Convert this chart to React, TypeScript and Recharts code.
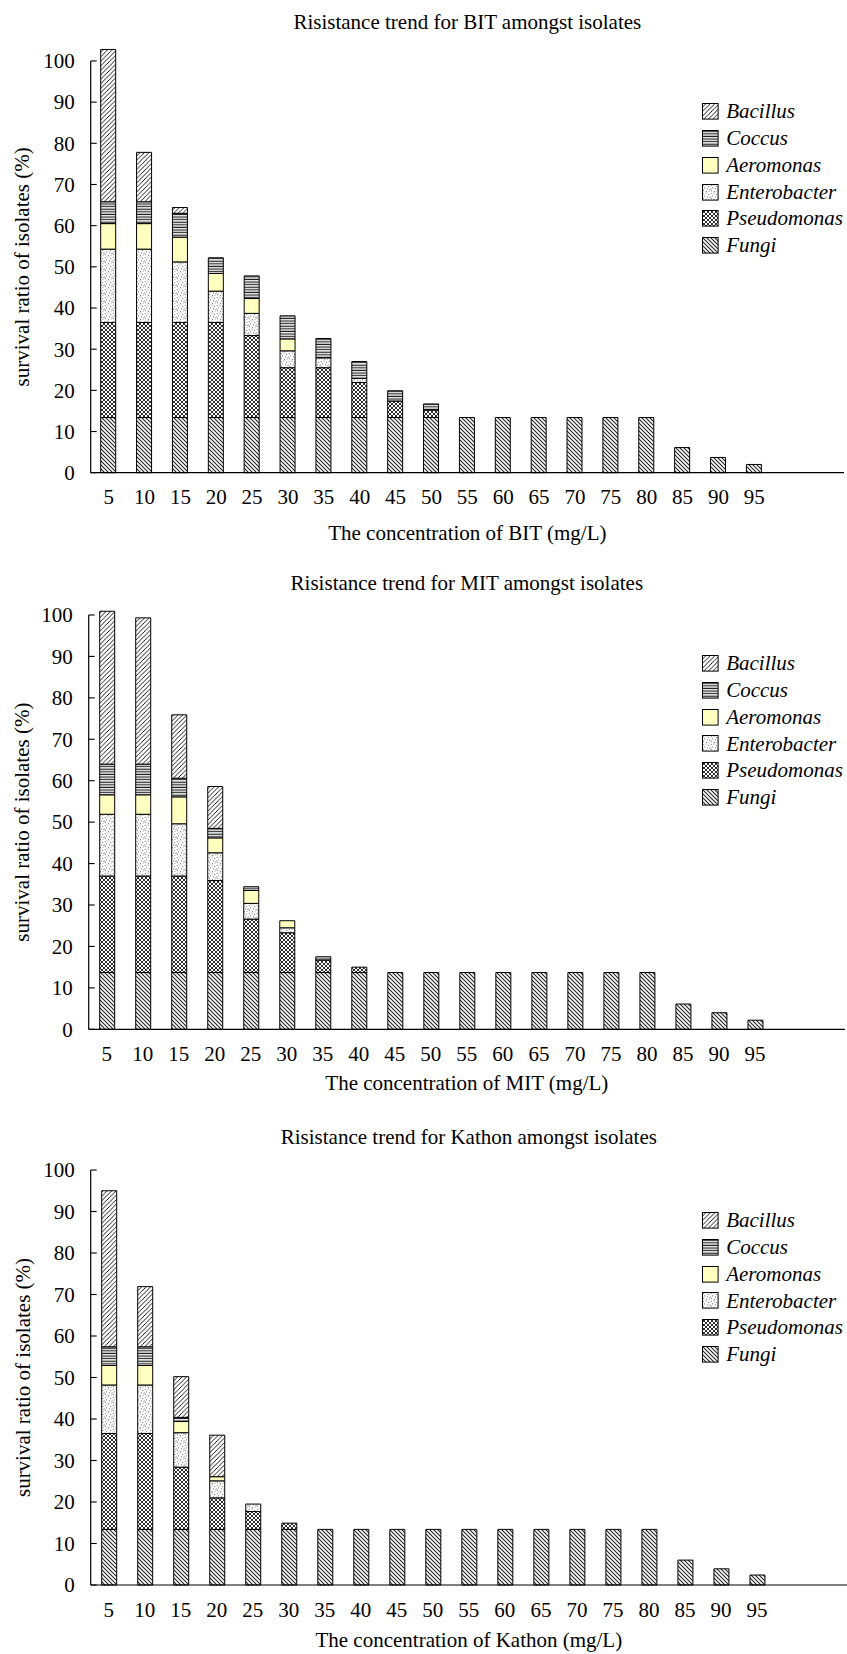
import React from 'react';
import { BarChart, Bar, XAxis, YAxis, Legend, ReferenceLine } from 'recharts';

const FONT = '"Liberation Serif", "Times New Roman", serif';

const concentrations = ['5', '10', '15', '20', '25', '30', '35', '40', '45', '50', '55', '60', '65', '70', '75', '80', '85', '90', '95', '100', '105'];
const tickLabels = ['5', '10', '15', '20', '25', '30', '35', '40', '45', '50', '55', '60', '65', '70', '75', '80', '85', '90', '95'];
const yTicks = [0, 10, 20, 30, 40, 50, 60, 70, 80, 90, 100];
const seriesNames = ['Fungi', 'Pseudomonas', 'Enterobacter', 'Aeromonas', 'Coccus', 'Bacillus'];

// BIT
const bitFungi = [13.4, 13.4, 13.4, 13.4, 13.4, 13.4, 13.4, 13.4, 13.4, 13.4, 13.4, 13.4, 13.4, 13.4, 13.4, 13.4, 6.1, 3.7, 2.0];
const bitPseudomonas = [23.1, 23.1, 23.1, 23.1, 19.9, 12.1, 12.1, 8.5, 4.0, 1.8];
const bitEnterobacter = [17.8, 17.8, 14.7, 7.6, 5.4, 4.1, 2.4, 1.0];
const bitAeromonas = [6.2, 6.2, 6.0, 4.3, 3.6, 2.9];
const bitCoccus = [5.3, 5.3, 5.8, 3.8, 5.5, 5.6, 4.7, 4.1, 2.5, 1.5];
const bitBacillus = [37.0, 12.0, 1.4];

// MIT
const mitFungi = [13.7, 13.7, 13.7, 13.7, 13.7, 13.7, 13.7, 13.7, 13.7, 13.7, 13.7, 13.7, 13.7, 13.7, 13.7, 13.7, 6.1, 4.0, 2.2];
const mitPseudomonas = [23.3, 23.3, 23.3, 22.2, 12.9, 9.6, 3.0, 1.3];
const mitEnterobacter = [14.9, 14.9, 12.6, 6.7, 3.8, 1.2];
const mitAeromonas = [4.7, 4.7, 6.5, 3.6, 3.1, 1.7];
const mitCoccus = [7.4, 7.4, 4.5, 2.3, 0.9, 0, 0.8];
const mitBacillus = [36.9, 35.3, 15.3, 10.1];

// Kathon
const kathonFungi = [13.4, 13.4, 13.4, 13.4, 13.4, 13.4, 13.4, 13.4, 13.4, 13.4, 13.4, 13.4, 13.4, 13.4, 13.4, 13.4, 6.0, 3.9, 2.4];
const kathonPseudomonas = [23.1, 23.1, 15.0, 7.6, 4.3, 1.5];
const kathonEnterobacter = [11.7, 11.7, 8.3, 4.1, 1.8];
const kathonAeromonas = [4.7, 4.7, 2.7, 1.0];
const kathonCoccus = [4.5, 4.5, 1.0, 0];
const kathonBacillus = [37.6, 14.5, 9.8, 10.0];

const Y_MAX = 104;

const charts = [
  {
    sfx: 'bit', title: 'Risistance trend for BIT amongst isolates', xTitle: 'The concentration of BIT (mg/L)',
    series: [bitFungi, bitPseudomonas, bitEnterobacter, bitAeromonas, bitCoccus, bitBacillus],
    top: 0, height: 560, axisX: 90.7, mRight: 3, mTop: 44.5, mBottom: 47.3, legendTop: 98.3, xTitleOffset: 60, titleY: 29,
  },
  {
    sfx: 'mit', title: 'Risistance trend for MIT amongst isolates', xTitle: 'The concentration of MIT (mg/L)',
    series: [mitFungi, mitPseudomonas, mitEnterobacter, mitAeromonas, mitCoccus, mitBacillus],
    top: 560, height: 540, axisX: 88.7, mRight: 2, mTop: 38.4, mBottom: 30.7, legendTop: 90.2, xTitleOffset: 54, titleY: 590,
  },
  {
    sfx: 'kathon', title: 'Risistance trend for Kathon amongst isolates', xTitle: 'The concentration of Kathon (mg/L)',
    series: [kathonFungi, kathonPseudomonas, kathonEnterobacter, kathonAeromonas, kathonCoccus, kathonBacillus],
    top: 1100, height: 554, axisX: 90.7, mRight: 0, mTop: 53.4, mBottom: 29, legendTop: 107.2, xTitleOffset: 55, titleY: 1144,
  },
];

const entDots = [
  [0.8, 1.2], [3.6, 0.6], [6.2, 2.1], [2.1, 3.4], [5.0, 4.4], [7.4, 5.3], [1.2, 6.2], [3.9, 7.1], [6.6, 7.5], [0.3, 4.6],
];

function patternDefs(sfx: string) {
  return [
    <pattern key="b" id={`Bacillus-${sfx}`} patternUnits="userSpaceOnUse" width="4.5" height="4.5">
      <rect width="4.5" height="4.5" fill="#fff" />
      <path d="M-1,1 L1,-1 M0,4.5 L4.5,0 M3.5,5.5 L5.5,3.5" stroke="#000" strokeWidth="0.9" />
    </pattern>,
    <pattern key="c" id={`Coccus-${sfx}`} patternUnits="userSpaceOnUse" width="4" height="2.6">
      <rect width="4" height="2.6" fill="#fff" />
      <rect y="0.6" width="4" height="1.2" fill="#222" />
    </pattern>,
    <pattern key="a" id={`Aeromonas-${sfx}`} patternUnits="userSpaceOnUse" width="4" height="4">
      <rect width="4" height="4" fill="#ffffc0" />
    </pattern>,
    <pattern key="e" id={`Enterobacter-${sfx}`} patternUnits="userSpaceOnUse" width="8" height="8">
      <rect width="8" height="8" fill="#fff" />
      {entDots.map((d, i) => (
        <rect key={i} x={d[0]} y={d[1]} width="0.9" height="0.9" fill="#555" />
      ))}
    </pattern>,
    <pattern key="p" id={`Pseudomonas-${sfx}`} patternUnits="userSpaceOnUse" width="4" height="4">
      <rect width="4" height="4" fill="#fff" />
      <path d="M-1,1 L1,-1 M0,4 L4,0 M3,5 L5,3 M-1,3 L1,5 M0,0 L4,4 M3,-1 L5,1" stroke="#222" strokeWidth="0.95" />
    </pattern>,
    <pattern key="f" id={`Fungi-${sfx}`} patternUnits="userSpaceOnUse" width="4" height="4">
      <rect width="4" height="4" fill="#fff" />
      <path d="M0,0 L4,4 M-1,3 L1,5 M3,-1 L5,1" stroke="#222" strokeWidth="1.1" />
    </pattern>,
  ];
}

const legendOrder = [...seriesNames].reverse();

function LegendBox({ sfx }: { sfx: string }) {
  return (
    <div style={{ fontFamily: FONT, fontStyle: 'italic', fontSize: 21, color: '#000', whiteSpace: 'nowrap' }}>
      {legendOrder.map((n) => (
        <div key={n} style={{ display: 'flex', alignItems: 'center', height: 26.8 }}>
          <svg width={17} height={17} style={{ marginRight: 7, flex: 'none' }}>
            <rect x={0.5} y={0.5} width={15.6} height={15.6} fill={`url(#${n}-${sfx})`} stroke="#000" strokeWidth={1} />
          </svg>
          <span style={{ lineHeight: '26.8px', fontFamily: FONT }}>{n}</span>
        </div>
      ))}
    </div>
  );
}

function YTick(p: any) {
  const axisX = p.x + 16;
  return (
    <g>
      <line x1={axisX} x2={axisX + 6} y1={p.y} y2={p.y} stroke="#000" strokeWidth={1.1} />
      <text x={p.x} y={p.y} dy="0.35em" textAnchor="end" fontFamily={FONT} fontSize={21} fill="#000">
        {p.payload.value}
      </text>
    </g>
  );
}

function ResistanceChart({ cfg }: { cfg: any }) {
  const data = concentrations.map((c, i) => {
    const row: any = { conc: c };
    seriesNames.forEach((n, k) => {
      row[n] = cfg.series[k][i] ?? 0;
    });
    return row;
  });

  const yLabel = (props: any) => {
    const vb = props.viewBox || { x: 0, y: cfg.mTop, width: cfg.axisX, height: cfg.height - cfg.mTop - cfg.mBottom - 40 };
    const cy = vb.y + vb.height * (1 - 50 / Y_MAX);
    const x = vb.x + 29.5;
    return (
      <text x={x} y={cy} transform={`rotate(-90 ${x} ${cy})`} textAnchor="middle" fontFamily={FONT} fontSize={21} fill="#000">
        survival ratio of isolates (%)
      </text>
    );
  };

  const xLabel = (props: any) => {
    const vb = props.viewBox || { x: cfg.axisX, y: cfg.height - cfg.mBottom - 40, width: 847 - cfg.axisX - cfg.mRight, height: 40 };
    return (
      <text x={vb.x + vb.width / 2} y={vb.y + cfg.xTitleOffset + 7} textAnchor="middle" fontFamily={FONT} fontSize={21} fill="#000">
        {cfg.xTitle}
      </text>
    );
  };

  return (
    <div style={{ position: 'absolute', left: 0, top: cfg.top }}>
      <BarChart
        width={847}
        height={cfg.height}
        data={data}
        margin={{ top: cfg.mTop, right: cfg.mRight, bottom: cfg.mBottom, left: 0 }}
        barSize={15}
      >
        <defs>{patternDefs(cfg.sfx)}</defs>
        <XAxis
          dataKey="conc"
          type="category"
          interval={0}
          height={40}
          tickLine={false}
          tickSize={0}
          tickMargin={16.7}
          axisLine={{ stroke: '#000', strokeWidth: 1.2 }}
          tick={{ fill: '#000', fontSize: 21, fontFamily: FONT }}
          tickFormatter={(v: any) => (tickLabels.includes(String(v)) ? String(v) : '')}
          label={xLabel}
        />
        <YAxis
          type="number"
          domain={[0, Y_MAX]}
          ticks={yTicks}
          interval={0}
          width={cfg.axisX}
          axisLine={false}
          tickLine={false}
          tickSize={0}
          tickMargin={16}
          tick={(p: any) => <YTick {...p} />}
          label={yLabel}
        />
        <ReferenceLine
          segment={[{ x: concentrations[0], y: 0 }, { x: concentrations[0], y: 100 }]}
          position="start"
          stroke="#000"
          strokeWidth={1.2}
          ifOverflow="visible"
        />
        {seriesNames.map((n) => (
          <Bar
            key={n}
            dataKey={n}
            stackId="s"
            fill={`url(#${n}-${cfg.sfx})`}
            stroke="#000"
            strokeWidth={1}
            isAnimationActive={false}
          />
        ))}
        <Legend
          layout="vertical"
          align="center"
          verticalAlign="middle"
          wrapperStyle={{ left: 702.2, top: cfg.legendTop, width: 145 }}
          content={() => <LegendBox sfx={cfg.sfx} />}
        />
      </BarChart>
    </div>
  );
}

export default function App() {
  return (
    <div style={{ position: 'absolute', left: 0, top: 0, width: 847, height: 1654, background: '#fff' }}>
      {charts.map((c) => (
        <ResistanceChart key={c.sfx} cfg={c} />
      ))}
      <svg width={847} height={1654} style={{ position: 'absolute', left: 0, top: 0, pointerEvents: 'none' }}>
        {charts.map((c) => (
          <text
            key={c.sfx}
            x={(c.axisX + 847 - c.mRight) / 2}
            y={c.titleY}
            textAnchor="middle"
            fontFamily={FONT}
            fontSize={21}
            fill="#000"
          >
            {c.title}
          </text>
        ))}
      </svg>
    </div>
  );
}
